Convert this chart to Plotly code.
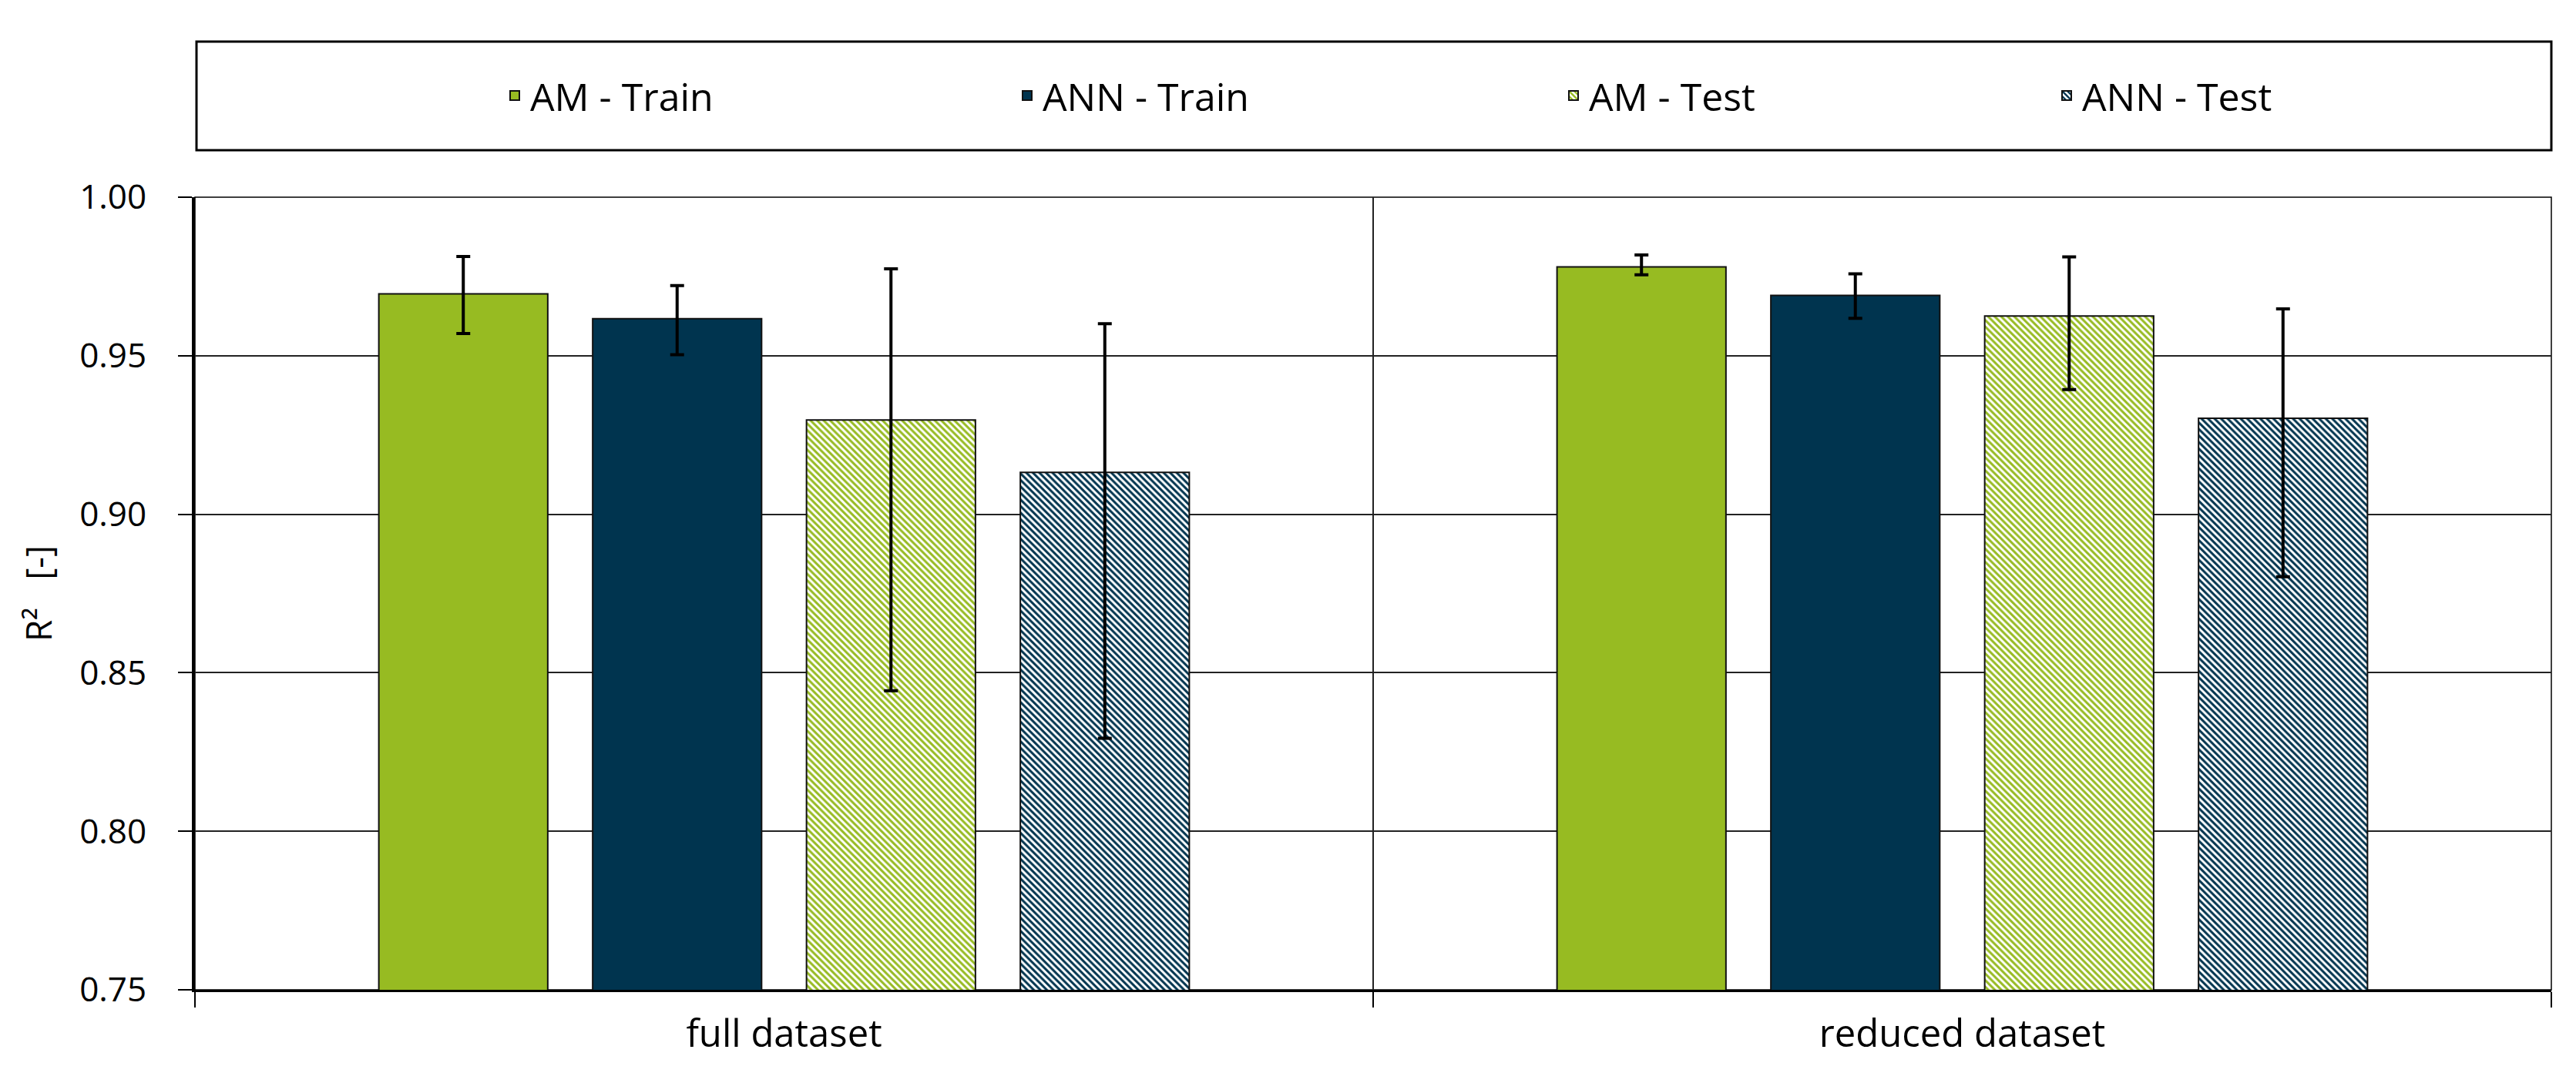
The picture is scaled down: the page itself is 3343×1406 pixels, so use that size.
import plotly.graph_objects as go

# ---- data ----
categories = ["full dataset", "reduced dataset"]
series_names = ["AM - Train", "ANN - Train", "AM - Test", "ANN - Test"]

am_train = [0.9695, 0.978]
ann_train = [0.9617, 0.969]
am_test = [0.9297, 0.9625]
ann_test = [0.9132, 0.9303]

am_train_err_plus = [0.0118, 0.0038]
am_train_err_minus = [0.0125, 0.0025]
ann_train_err_plus = [0.0104, 0.0068]
ann_train_err_minus = [0.0114, 0.0072]
am_test_err_plus = [0.0477, 0.0187]
am_test_err_minus = [0.0854, 0.0232]
ann_test_err_plus = [0.0469, 0.0345]
ann_test_err_minus = [0.0839, 0.0500]

y_ticks = [0.75, 0.80, 0.85, 0.90, 0.95, 1.00]

GREEN = "#97BB22"
NAVY = "#00344F"
FONT = "Open Sans"

values = [am_train, ann_train, am_test, ann_test]
plus = [am_train_err_plus, ann_train_err_plus, am_test_err_plus, ann_test_err_plus]
minus = [am_train_err_minus, ann_train_err_minus, am_test_err_minus, ann_test_err_minus]
colors = [GREEN, NAVY, GREEN, NAVY]
patterned = [False, False, True, True]
legend_ids = ["legend", "legend2", "legend3", "legend4"]

W, H = 3343, 1406
L, R, T, B = 245, 40, 248, 129
pw = W - L - R
ph = H - T - B

# left edges (px) of the legend entries, as laid out in the reference
legend_px = [640, 1305, 2014, 2654]

fig = go.Figure()
for name, v, p, m, c, pat, lg in zip(series_names, values, plus, minus,
                                       colors, patterned, legend_ids):
    marker = dict(color=c, line=dict(color="#111111", width=2))
    if pat:
        marker["pattern"] = dict(shape="\\", fgcolor=c, bgcolor="white",
                                 size=6, solidity=0.5, fillmode="replace")
    fig.add_trace(go.Bar(
        x=categories, y=v, name=name, marker=marker, legend=lg,
        showlegend=True,
        error_y=dict(type="data", symmetric=False, array=p, arrayminus=m,
                     color="black", thickness=4, width=9),
    ))

legend_layout = {}
for lg, px in zip(legend_ids, legend_px):
    legend_layout[lg] = dict(
        orientation="h", x=(px - L) / pw, xanchor="left",
        y=(H - B - 116) / ph, yanchor="middle",
        font=dict(family=FONT, size=50, color="black"),
        bgcolor="rgba(0,0,0,0)", borderwidth=0,
    )

fig.update_layout(
    width=W, height=H,
    showlegend=True,
    margin=dict(l=L, r=R, t=T, b=B, autoexpand=False),
    paper_bgcolor="white", plot_bgcolor="white",
    barmode="group", bargap=0.274, bargroupgap=0.21,
    font=dict(family=FONT, color="black", size=44),
    xaxis=dict(
        type="category", tickson="boundaries", ticks="outside", ticklen=20,
        tickwidth=2, tickcolor="black", showline=True, linewidth=3,
        linecolor="black", showgrid=True, gridcolor="#222222", gridwidth=1.5,
        tickfont=dict(family=FONT, size=49), ticklabelstandoff=12,
    ),
    yaxis=dict(
        range=[0.75, 1.0], tickvals=y_ticks, tickformat=".2f",
        ticks="outside", ticklen=18, tickwidth=2, tickcolor="black",
        showline=True, linewidth=4, linecolor="black",
        showgrid=True, gridcolor="#222222", gridwidth=1.5, zeroline=False,
        tickfont=dict(family=FONT, size=44), ticklabelstandoff=32,
        title=dict(text="R²\u00a0\u00a0\u00a0[-]", standoff=22,
                   font=dict(family=FONT, size=46)),
    ),
    shapes=[
        dict(type="rect", xref="paper", yref="paper", x0=0, x1=1, y0=0, y1=1,
             line=dict(color="black", width=1.5), layer="below"),
        dict(type="rect", xref="paper", yref="paper",
             x0=(247 - L) / pw, x1=1.0,
             y0=(H - B - 187) / ph, y1=(H - B - 46) / ph,
             line=dict(color="black", width=3), fillcolor="rgba(0,0,0,0)"),
    ],
    **legend_layout,
)

fig.write_html("out.html")
